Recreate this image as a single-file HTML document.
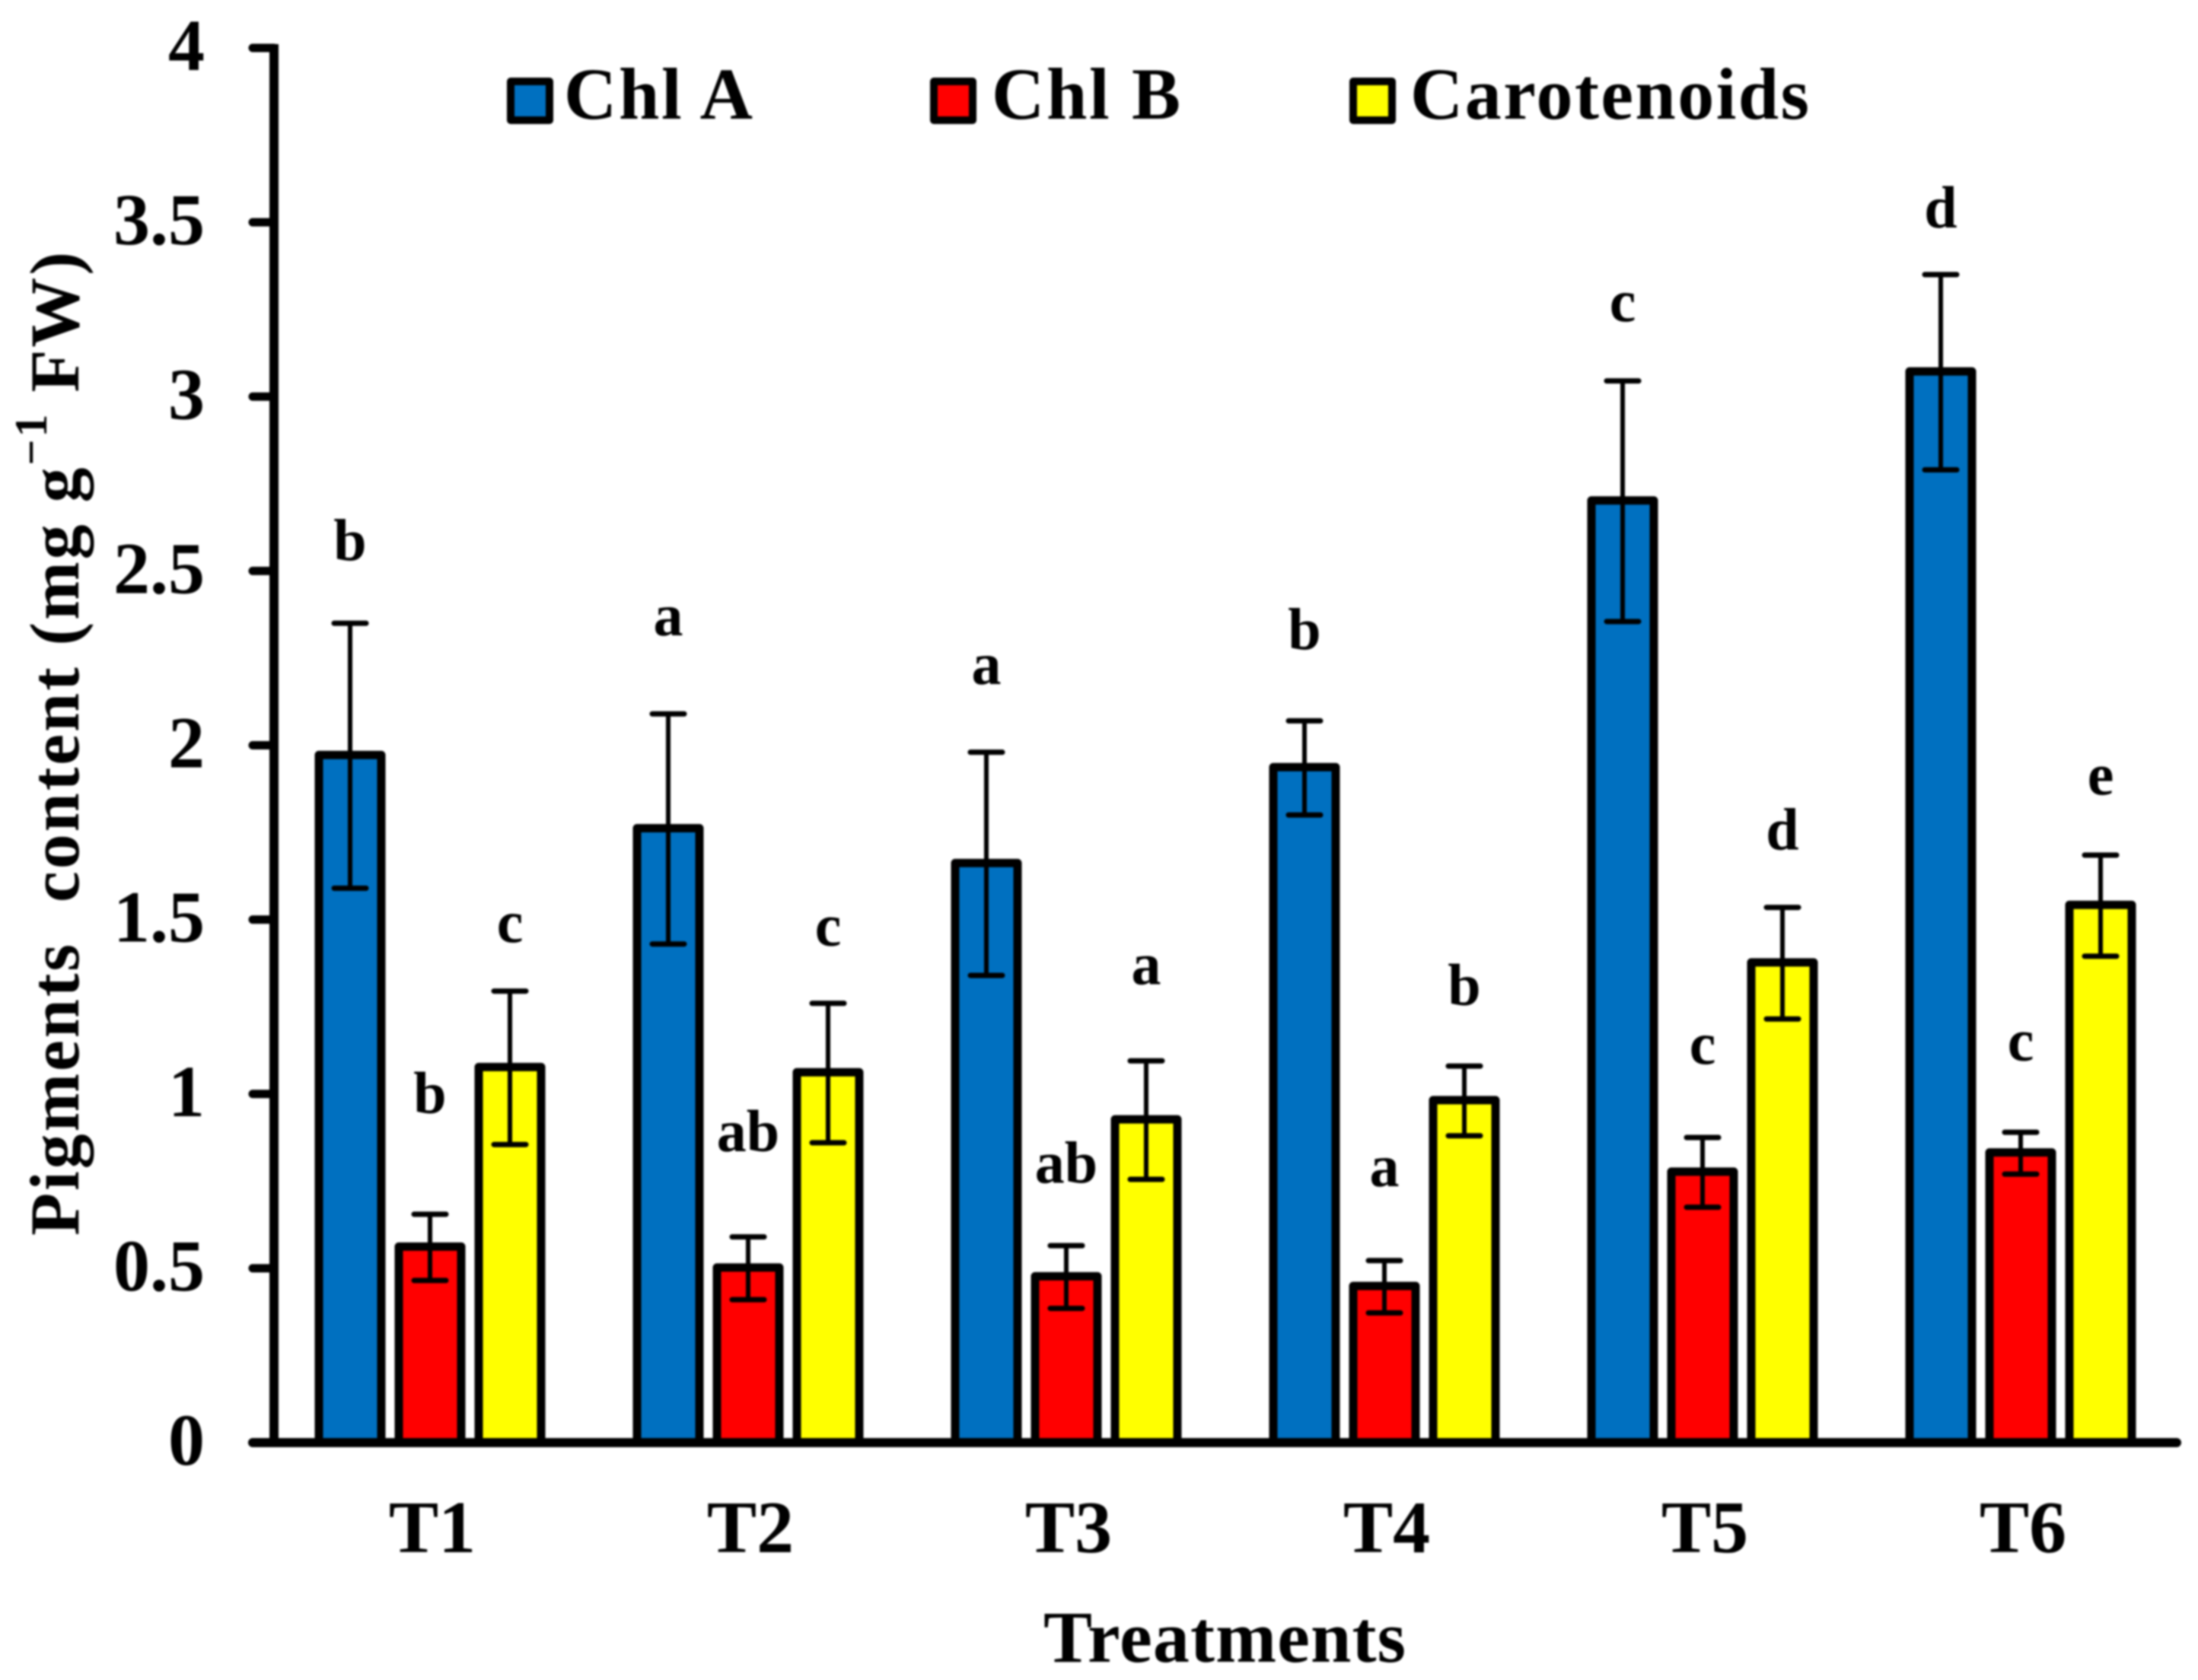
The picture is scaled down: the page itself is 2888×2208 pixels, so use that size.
<!DOCTYPE html>
<html>
<head>
<meta charset="utf-8">
<title>Pigments content chart</title>
<style>
html,body{margin:0;padding:0;background:#fff;width:2888px;height:2208px;overflow:hidden}
svg{display:block;filter:blur(1.2px)}
text{font-family:"Liberation Serif",serif;font-weight:bold;fill:#000}
</style>
</head>
<body>
<svg id="chart" xmlns="http://www.w3.org/2000/svg" width="2888" height="2208" viewBox="0 0 2888 2208">
  <rect x="0" y="0" width="2888" height="2208" fill="#fff"/>
  <g id="bars"></g>
  <g id="axes"></g>
  <text transform="translate(103,1624) rotate(-90)" font-size="92" textLength="1293" lengthAdjust="spacing" xml:space="preserve">Pigments  content (mg g<tspan font-size="60" dy="-42">−1</tspan><tspan dy="42"> FW)</tspan></text>
  <text x="1609" y="2184" font-size="96" text-anchor="middle" textLength="476" lengthAdjust="spacing">Treatments</text>
  <g>
    <rect x="671" y="107" width="51" height="51" fill="#0070C0" stroke="#000" stroke-width="10" stroke-linejoin="round"/>
    <text x="741" y="156" font-size="96" textLength="248">Chl A</text>
    <rect x="1227" y="107" width="51" height="51" fill="#FF0000" stroke="#000" stroke-width="10" stroke-linejoin="round"/>
    <text x="1303" y="156" font-size="96" textLength="248">Chl B</text>
    <rect x="1778" y="107" width="51" height="51" fill="#FFFF00" stroke="#000" stroke-width="10" stroke-linejoin="round"/>
    <text x="1853" y="156" font-size="96" textLength="524">Carotenoids</text>
  </g>
</svg>
<script>
const categories = ['T1', 'T2', 'T3', 'T4', 'T5', 'T6'];
const yTickValues = [0, 0.5, 1, 1.5, 2, 2.5, 3, 3.5, 4];
const yTickLabels = ['0', '0.5', '1', '1.5', '2', '2.5', '3', '3.5', '4'];

const chlA = [1.97, 1.76, 1.66, 1.935, 2.70, 3.07];
const chlB = [0.56, 0.50, 0.475, 0.447, 0.775, 0.83];
const carotenoids = [1.075, 1.06, 0.925, 0.98, 1.375, 1.54];

const chlAError = [0.38, 0.33, 0.32, 0.135, 0.345, 0.28];
const chlBError = [0.095, 0.09, 0.09, 0.075, 0.10, 0.06];
const carotenoidsError = [0.22, 0.20, 0.17, 0.10, 0.16, 0.145];

const chlALetters = ['b', 'a', 'a', 'b', 'c', 'd'];
const chlBLetters = ['b', 'ab', 'ab', 'a', 'c', 'c'];
const carotenoidsLetters = ['c', 'c', 'a', 'b', 'd', 'e'];

const chlALetterLevels = [2.515, 2.30, 2.16, 2.26, 3.20, 3.47];
const chlBLetterLevels = [0.93, 0.82, 0.73, 0.72, 1.07, 1.08];
const carotenoidsLetterLevels = [1.42, 1.41, 1.30, 1.24, 1.686, 1.843];

const NS = 'http://www.w3.org/2000/svg';
const barsLayer = document.getElementById('bars');
const axesLayer = document.getElementById('axes');

const baseY = 1896;
const topY = 63;
const axisX = 360;
const firstCenter = 565;
const groupStep = 418;
const seriesOffset = 105;
const barWidth = 82;

function yScale(v) {
  return baseY - (v / 4) * (baseY - topY);
}
function xScale(i) {
  return firstCenter + i * groupStep;
}
function make(tag, attrs, parent) {
  const el = document.createElementNS(NS, tag);
  for (const k in attrs) el.setAttribute(k, attrs[k]);
  parent.appendChild(el);
  return el;
}

const seriesList = [
  { key: 'chl-a', values: chlA, errors: chlAError, letters: chlALetters, levels: chlALetterLevels, color: '#0070C0', offset: -seriesOffset },
  { key: 'chl-b', values: chlB, errors: chlBError, letters: chlBLetters, levels: chlBLetterLevels, color: '#FF0000', offset: 0 },
  { key: 'carotenoids', values: carotenoids, errors: carotenoidsError, letters: carotenoidsLetters, levels: carotenoidsLetterLevels, color: '#FFFF00', offset: seriesOffset }
];

seriesList.forEach(function (s) {
  s.values.forEach(function (v, i) {
    const cx = xScale(i) + s.offset;
    const top = yScale(v);
    const bar = make('rect', { x: cx - barWidth / 2, y: top - 1, width: barWidth, height: baseY - top + 1, fill: s.color, stroke: '#000', 'stroke-width': 11, 'stroke-linejoin': 'round' }, barsLayer);
    
    

    const errTop = yScale(v + s.errors[i]);
    const errBottom = yScale(v - s.errors[i]);
    const stem = make('line', { x1: cx, x2: cx, y1: errTop, y2: errBottom, stroke: '#000', 'stroke-width': 6 }, barsLayer);
    
    
    const capTop = make('line', { x1: cx - 21, x2: cx + 21, y1: errTop, y2: errTop, stroke: '#000', 'stroke-width': 7, 'stroke-linecap': 'round' }, barsLayer);
    
    
    const capBottom = make('line', { x1: cx - 21, x2: cx + 21, y1: errBottom, y2: errBottom, stroke: '#000', 'stroke-width': 7, 'stroke-linecap': 'round' }, barsLayer);
    
    

    const letter = make('text', { x: cx, y: yScale(s.levels[i]) - 7, 'font-size': 78, 'text-anchor': 'middle' }, barsLayer);
    letter.textContent = s.letters[i];
    
    
  });
});

const yAxisLine = make('line', { x1: axisX, x2: axisX, y1: topY - 5, y2: baseY, stroke: '#000', 'stroke-width': 12 }, axesLayer);



const xAxisLine = make('line', { x1: 332, x2: 2860, y1: baseY, y2: baseY, stroke: '#000', 'stroke-width': 12, 'stroke-linecap': 'round' }, axesLayer);



yTickValues.forEach(function (v, i) {
  const y = yScale(v);
  const tick = make('line', { x1: 332, x2: axisX, y1: y, y2: y, stroke: '#000', 'stroke-width': 11, 'stroke-linecap': 'round' }, axesLayer);
  
  
  const label = make('text', { x: 269, y: y + 29, 'font-size': 96, 'text-anchor': 'end' }, axesLayer);
  label.textContent = yTickLabels[i];
  
  
});

categories.forEach(function (c, i) {
  const label = make('text', { x: xScale(i) + 3, y: 2040, 'font-size': 98, 'text-anchor': 'middle' }, axesLayer);
  label.textContent = c;
  
  
});
</script>
</body>
</html>
